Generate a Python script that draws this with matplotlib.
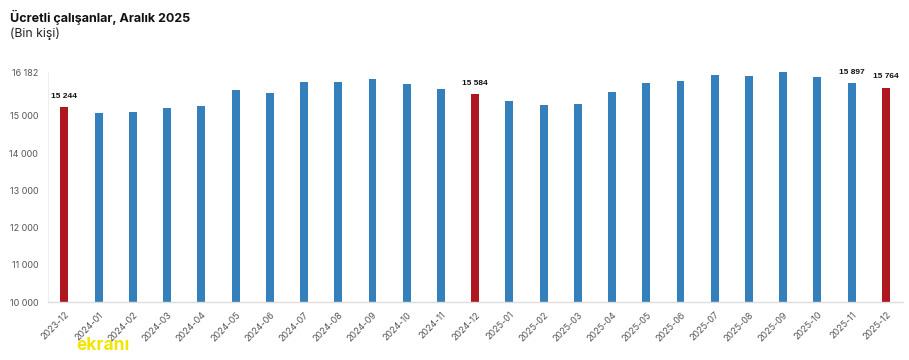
import matplotlib
matplotlib.use("Agg")
import matplotlib.pyplot as plt
import numpy as np

# Ücretli çalışanlar (bin kişi), aylık
months = [
    "2023-12", "2024-01", "2024-02", "2024-03", "2024-04", "2024-05", "2024-06",
    "2024-07", "2024-08", "2024-09", "2024-10", "2024-11", "2024-12",
    "2025-01", "2025-02", "2025-03", "2025-04", "2025-05", "2025-06",
    "2025-07", "2025-08", "2025-09", "2025-10", "2025-11", "2025-12",
]
values = [
    15244, 15075, 15108, 15215, 15280, 15700, 15615,
    15912, 15905, 15995, 15860, 15728, 15584,
    15400, 15295, 15320, 15655, 15888, 15932,
    16102, 16075, 16175, 16040, 15897, 15764,
]
# which bars are highlighted (December) and which get a value label
highlight = ["2023-12", "2024-12", "2025-12"]
labelled = ["2023-12", "2024-12", "2025-11", "2025-12"]

y_ticks = [10000, 11000, 12000, 13000, 14000, 15000, 16182]

BLUE = "#3380bd"
RED = "#ae1720"

plt.rcParams["font.family"] = ["Inter", "DejaVu Sans"]

fig = plt.figure(figsize=(9.09, 3.6), dpi=100)
ax = fig.add_axes([48 / 909, 1 - 302 / 360, (903 - 48) / 909, (302 - 72) / 360])

x = np.arange(len(months))
colors = [RED if m in highlight else BLUE for m in months]
ax.bar(x, values, width=0.23, color=colors, zorder=2)

def fmt(v):
    return f"{v:,}".replace(",", " ")

for xi, m, v in zip(x, months, values):
    if m in labelled:
        ax.text(xi, v + 190, fmt(v), ha="center", va="bottom",
                fontsize=6, fontweight="bold", color="#111111",
                family=["Liberation Sans", "DejaVu Sans"])

ax.set_xlim(-0.48, len(months) - 0.5)
ax.set_ylim(10000, 16182)
ax.set_yticks(y_ticks)
ax.set_yticklabels([fmt(t) for t in y_ticks])
ax.set_xticks(x)
ax.set_xticklabels(months, rotation=45, ha="right", rotation_mode="anchor")

ax.tick_params(axis="both", length=0, labelsize=6.5, labelcolor="#555555")
ax.tick_params(axis="y", pad=7)
ax.tick_params(axis="x", pad=6)

for side in ["top", "right"]:
    ax.spines[side].set_visible(False)
ax.spines["left"].set_color("#eeeeee")
ax.spines["bottom"].set_color("#dddddd")
ax.spines["left"].set_linewidth(0.8)
ax.spines["bottom"].set_linewidth(1.0)

fig.text(10 / 909, 1 - 17 / 360, "Ücretli çalışanlar, Aralık 2025",
         fontsize=9, fontweight="bold", color="#111111", va="center")
fig.text(10 / 909, 1 - 34 / 360, "(Bin kişi)",
         fontsize=8.8, color="#222222", va="center")

# watermark
fig.text(76 / 909, 1 - 345 / 360, "ekranı", fontsize=12.5, fontweight="bold",
         color="#f2e600", va="center")

fig.savefig("out.png", dpi=100)
